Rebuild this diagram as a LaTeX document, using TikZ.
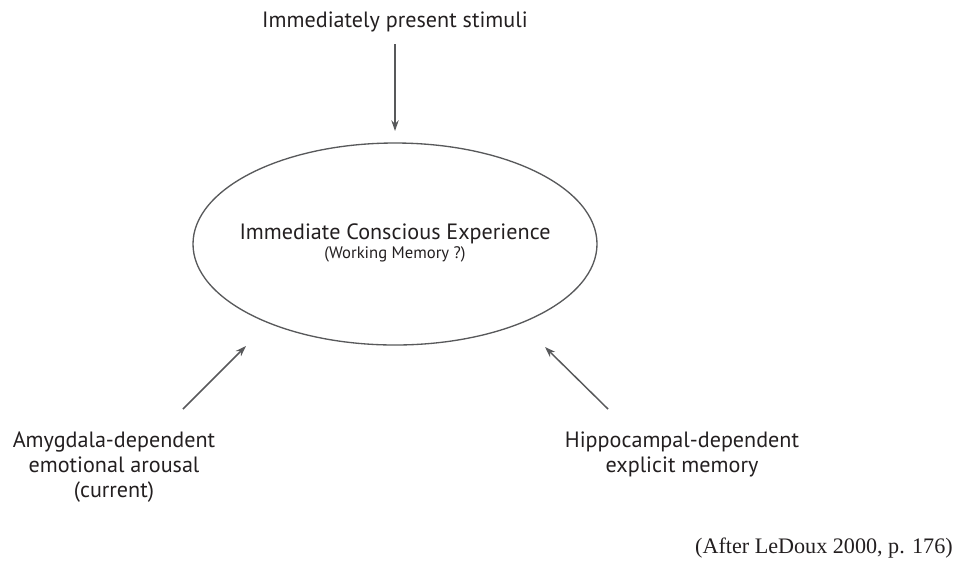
\documentclass[tikz,border=0pt]{standalone}
\usepackage{fontspec}
\setmainfont{PT Sans}
\newfontfamily\citefont{Liberation Serif}
\usetikzlibrary{arrows.meta,shapes.geometric}
\definecolor{ink}{HTML}{231F20}
\definecolor{linegray}{HTML}{58595B}
\begin{document}
\begin{tikzpicture}[x=0.75pt,y=-0.75pt,
  % multi-line labels: the base anchor sits on the last line
  txt/.style={text=ink, inner sep=0pt, align=center, anchor=base,
    font=\fontsize{16.6}{18.75}\selectfont},
  subtxt/.style={text=ink, inner sep=0pt, anchor=base,
    font=\fontsize{12.5}{15}\selectfont},
  citetxt/.style={text=ink, inner sep=0pt, anchor=base east,
    font=\citefont\fontsize{16.6}{19}\selectfont},
  oval/.style={draw=linegray, line width=1pt, ellipse, inner sep=0pt,
    minimum width=303pt, minimum height=151.5pt},
  flow/.style={draw=linegray, line width=1.1pt,
    -{Stealth[length=8pt,width=5.5pt,inset=2.5pt]}}]
\useasboundingbox (0,0) rectangle (966,562);

% central ellipse and its labels
\node[oval] (exp) at (395,244) {};
\node[txt] (expmain) at (395,239) {Immediate Conscious Experience};
\node[subtxt] (expsub) at (395,258) {(Working Memory ?)};

% inputs
\node[txt] (stim) at (395,27) {Immediately present stimuli};
\node[txt] (amyg) at (114,497) {Amygdala-dependent\\emotional arousal\\(current)};
\node[txt] (hippo) at (682,472) {Hippocampal-dependent\\explicit memory};

% arrow end points
\coordinate (stimOut) at (395,44);
\coordinate (expTop) at (395,131);
\coordinate (amygOut) at (183,409);
\coordinate (expLeft) at (246,346);
\coordinate (hippoOut) at (608,409);
\coordinate (expRight) at (545,347);

\draw[flow] (stimOut) -- (expTop);
\draw[flow] (amygOut) -- (expLeft);
\draw[flow] (hippoOut) -- (expRight);

% source
\node[citetxt] (cite) at (953,553) {(After LeDoux 2000, p. 176)};
\end{tikzpicture}
\end{document}
